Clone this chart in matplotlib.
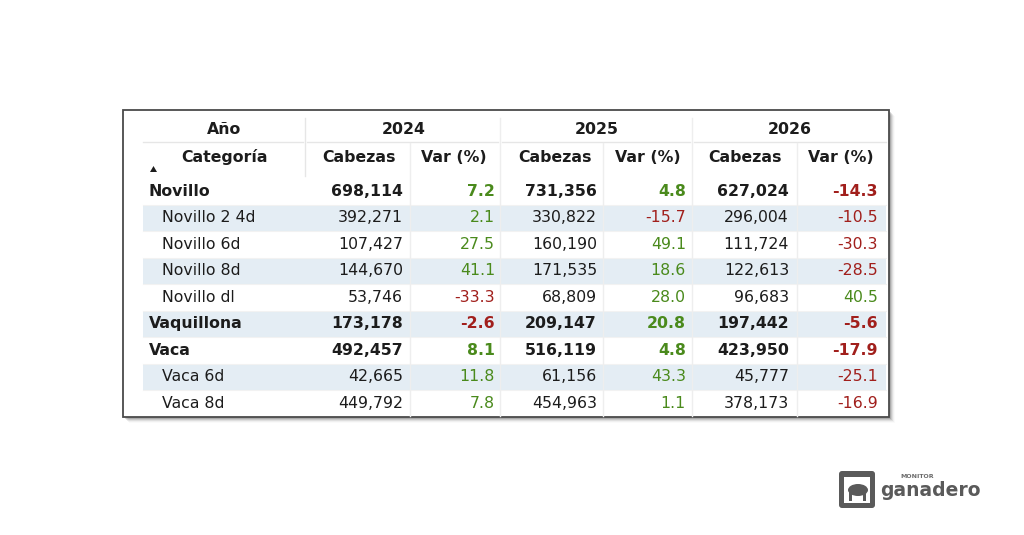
import matplotlib.pyplot as plt
from matplotlib.patches import Rectangle, FancyBboxPatch, Ellipse, Polygon

# table content
YEARS = ["2024", "2025", "2026"]
CATEGORIES = [
    "Novillo", "Novillo 2 4d", "Novillo 6d", "Novillo 8d", "Novillo dl",
    "Vaquillona", "Vaca", "Vaca 6d", "Vaca 8d",
]
IS_PARENT = [True, False, False, False, False, True, True, False, False]
CABEZAS_2024 = [698114, 392271, 107427, 144670, 53746, 173178, 492457, 42665, 449792]
VAR_2024 = [7.2, 2.1, 27.5, 41.1, -33.3, -2.6, 8.1, 11.8, 7.8]
CABEZAS_2025 = [731356, 330822, 160190, 171535, 68809, 209147, 516119, 61156, 454963]
VAR_2025 = [4.8, -15.7, 49.1, 18.6, 28.0, 20.8, 4.8, 43.3, 1.1]
CABEZAS_2026 = [627024, 296004, 111724, 122613, 96683, 197442, 423950, 45777, 378173]
VAR_2026 = [-14.3, -10.5, -30.3, -28.5, 40.5, -5.6, -17.9, -25.1, -16.9]

CABEZAS = [CABEZAS_2024, CABEZAS_2025, CABEZAS_2026]
VARS = [VAR_2024, VAR_2025, VAR_2026]

TEXT = "#1c1c1c"
GREEN = "#4a8a1c"
RED = "#a11f1c"
BAND = "#e4edf4"
GRID = "#e6e6e6"

# layout in pixels
X_LEFT, X_RIGHT = 143, 886
ROW0_TOP = 178
ROW_H = 26.5
YEAR_SEP = [305, 500, 692]
SUB_SEP = [410, 603, 797]
CAB_RIGHT = [403, 597, 789]
VAR_RIGHT = [495, 686, 878]
CAB_CENTER = [359, 555, 745]
VAR_CENTER = [454, 648, 841]
YEAR_CENTER = [404, 597, 790]

fig = plt.figure(figsize=(10.24, 5.35), dpi=100)
ax = fig.add_axes([0, 0, 1, 1])
ax.set_xlim(0, 1024)
ax.set_ylim(535, 0)
ax.axis("off")

# drop shadow + frame
for i, a in enumerate([0.14, 0.10, 0.07, 0.04, 0.02]):
    off = 1.5 + i
    ax.add_patch(Rectangle((123 + off, 110 + off), 766, 307, facecolor="black",
                           edgecolor="none", alpha=a, zorder=1))
ax.add_patch(Rectangle((123, 110), 766, 307, facecolor="white",
                       edgecolor="#4a4a4a", linewidth=1.3, zorder=2))

fs = 11.3
n = len(CATEGORIES)

# banded rows
for i in range(n):
    top = ROW0_TOP + ROW_H * i
    if i % 2 == 1:
        ax.add_patch(Rectangle((X_LEFT, top), X_RIGHT - X_LEFT, ROW_H,
                               facecolor=BAND, edgecolor="none", zorder=3))
    if i > 0:
        ax.plot([X_LEFT, X_RIGHT], [top, top], color="#f2f2f2", lw=0.8, zorder=3)

# header grid
ax.plot([X_LEFT, 303], [142, 142], color=GRID, lw=1.0, zorder=4)
for s, e in [(307, 498), (502, 690), (694, X_RIGHT)]:
    ax.plot([s, e], [142, 142], color=GRID, lw=1.0, zorder=4)
ax.plot([YEAR_SEP[0], YEAR_SEP[0]], [118, 176], color=GRID, lw=1.0, zorder=4)
for x in YEAR_SEP[1:]:
    ax.plot([x, x], [118, 416], color="#eeeeee", lw=1.0, zorder=4)
for x in SUB_SEP:
    ax.plot([x, x], [143, 416], color="#eeeeee", lw=1.0, zorder=4)

# header text
ax.text(224, 130, "Año", ha="center", va="center", fontsize=fs, weight="bold", color=TEXT, zorder=5)
ax.text(224, 157, "Categoría", ha="center", va="center", fontsize=fs, weight="bold", color=TEXT, zorder=5)
ax.add_patch(Polygon([[150, 172], [157, 172], [153.5, 166]], closed=True,
                     facecolor=TEXT, edgecolor="none", zorder=5))
for k, yr in enumerate(YEARS):
    ax.text(YEAR_CENTER[k], 130, yr, ha="center", va="center", fontsize=fs,
            weight="bold", color=TEXT, zorder=5)
    ax.text(CAB_CENTER[k], 157, "Cabezas", ha="center", va="center", fontsize=fs,
            weight="bold", color=TEXT, zorder=5)
    ax.text(VAR_CENTER[k], 157, "Var (%)", ha="center", va="center", fontsize=fs,
            weight="bold", color=TEXT, zorder=5)

# body
for i, cat in enumerate(CATEGORIES):
    yc = ROW0_TOP + ROW_H * i + ROW_H / 2
    wt = "bold" if IS_PARENT[i] else "normal"
    ax.text(149 if IS_PARENT[i] else 162, yc, cat, ha="left", va="center",
            fontsize=fs, weight=wt, color=TEXT, zorder=5)
    for k in range(3):
        ax.text(CAB_RIGHT[k], yc, f"{CABEZAS[k][i]:,}", ha="right", va="center",
                fontsize=fs, weight=wt, color=TEXT, zorder=5)
        v = VARS[k][i]
        ax.text(VAR_RIGHT[k], yc, f"{v:.1f}", ha="right", va="center",
                fontsize=fs, weight=wt, color=GREEN if v >= 0 else RED, zorder=5)

# logo
ax.add_patch(FancyBboxPatch((839, 471), 36, 37, boxstyle="round,pad=0,rounding_size=3",
                            facecolor="#5a5a5a", edgecolor="none", zorder=5))
ax.add_patch(Rectangle((844, 477), 26, 26, facecolor="white", edgecolor="none", zorder=6))
ax.add_patch(Ellipse((858, 490), 20, 12, facecolor="#5a5a5a", edgecolor="none", zorder=7))
ax.add_patch(Rectangle((849, 492), 3, 9, facecolor="#5a5a5a", edgecolor="none", zorder=7))
ax.add_patch(Rectangle((863, 492), 3, 9, facecolor="#5a5a5a", edgecolor="none", zorder=7))
ax.text(917, 477, "MONITOR", ha="center", va="center", fontsize=4.5, weight="bold",
        color="#6a6a6a", zorder=5)
ax.text(930, 491, "ganadero", ha="center", va="center", fontsize=13.5, weight="bold",
        color="#5a5a5a", zorder=5)

fig.savefig("out.png", dpi=100)
